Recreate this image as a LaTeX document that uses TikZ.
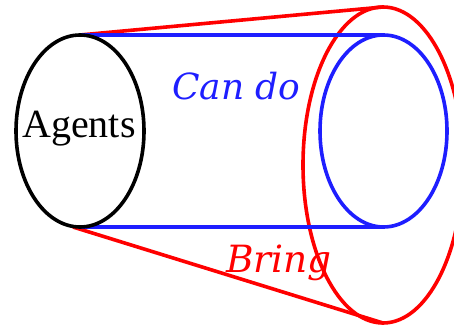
\documentclass[tikz,border=0pt]{standalone}
\usepackage{fontspec}
\setmainfont{Liberation Serif}
\newfontfamily\labfont{DejaVu Serif}
\definecolor{cblue}{RGB}{30,30,255}
\definecolor{cred}{RGB}{255,0,0}
\begin{document}
\begin{tikzpicture}[x=1pt,y=-1pt,
  edge/.style={line width=3.6pt},
  lab/.style={font=\labfont\itshape\fontsize{36}{36}\selectfont, inner sep=0pt}]
\useasboundingbox (0,0) rectangle (454,328);
\clip (0,0) rectangle (454,328);
% anchor coordinates
\coordinate (bt) at (80,35);
\coordinate (bb) at (78,227);
\coordinate (rb) at (73,227);
\coordinate (ut) at (384,35);
\coordinate (ub) at (384,227);
\coordinate (rt) at (383,7);
\coordinate (rbot) at (383,323);
% red ellipse and lines
\draw[edge,cred] (383,165) ellipse [x radius=80, y radius=158];
\draw[edge,cred] (bt) -- (rt);
\draw[edge,cred] (rb) -- (rbot);
% blue ellipse and lines
\draw[edge,cblue] (383.5,131) ellipse [x radius=63.5, y radius=96];
\draw[edge,cblue] (bt) -- (ut);
\draw[edge,cblue] (bb) -- (ub);
% black ellipse
\draw[edge,black] (80,131) ellipse [x radius=64, y radius=96];
% labels
\node[anchor=base, inner sep=0pt, font=\fontsize{40}{40}\selectfont] (agents) at (79,138) {Agents};
\node[lab, text=cblue, anchor=base west] (cando) at (172,100) {Can do};
\node[lab, text=cred, anchor=base west, font=\labfont\itshape\fontsize{37.5}{37.5}\selectfont] (bring) at (226,272) {Bring};
\end{tikzpicture}
\end{document}
